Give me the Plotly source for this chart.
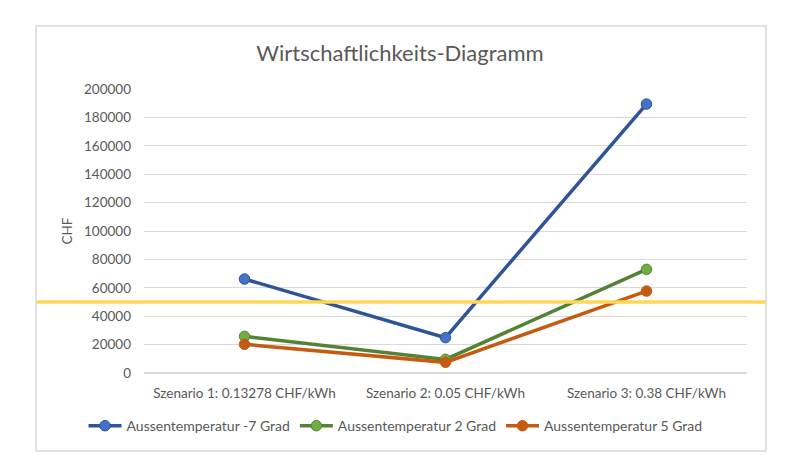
import plotly.graph_objects as go

szenarien = ['Szenario 1: 0.13278 CHF/kWh', 'Szenario 2: 0.05 CHF/kWh', 'Szenario 3: 0.38 CHF/kWh']
temp_minus7 = [66200, 24900, 189400]
temp_2 = [25800, 9600, 73000]
temp_5 = [20200, 7500, 57700]
grenze = 50000

grau = '#595959'

fig = go.Figure()
fig.add_trace(go.Scatter(x=szenarien, y=temp_minus7, name='Aussentemperatur -7 Grad',
                         mode='lines+markers',
                         line=dict(color='#2F5597', width=3.5),
                         marker=dict(color='#4472C4', size=10.5, line=dict(color='#2F5597', width=1))))
fig.add_trace(go.Scatter(x=szenarien, y=temp_2, name='Aussentemperatur 2 Grad',
                         mode='lines+markers',
                         line=dict(color='#548235', width=3.5),
                         marker=dict(color='#70AD47', size=10.5, line=dict(color='#548235', width=1))))
fig.add_trace(go.Scatter(x=szenarien, y=temp_5, name='Aussentemperatur 5 Grad',
                         mode='lines+markers',
                         line=dict(color='#C55A11', width=3.5),
                         marker=dict(color='#C55A11', size=10.5, line=dict(color='#C55A11', width=1))))

# Rahmen um das ganze Diagramm
fig.add_shape(type='rect', xref='paper', yref='paper',
              x0=-0.179, x1=1.0315, y0=-0.2746, y1=1.2218,
              line=dict(color='#D9D9D9', width=1.5), layer='below')
# gelbe Grenzlinie
fig.add_shape(type='line', xref='paper', yref='y',
              x0=-0.178, x1=1.031, y0=grenze, y1=grenze,
              line=dict(color='#FFD757', width=3.5))

fig.update_layout(
    width=800, height=472,
    margin=dict(l=136, r=61, t=81, b=107),
    paper_bgcolor='white', plot_bgcolor='white',
    font=dict(family='Lato', color=grau, size=13.5),
    title=dict(text='Wirtschaftlichkeits-Diagramm', x=0.49, xanchor='center',
               y=0.905, yanchor='middle', font=dict(size=22, color=grau)),
    xaxis=dict(range=[-0.5, 2.5], showgrid=False, showline=False, ticks='',
               ticklabelstandoff=10, tickfont=dict(size=13.5, color=grau)),
    yaxis=dict(range=[0, 200000], dtick=20000, tickformat='d', showgrid=True,
               gridcolor='#D9D9D9', gridwidth=1, zeroline=True, zerolinecolor='#D9D9D9',
               ticks='', ticklen=0, ticklabelstandoff=12,
               title=dict(text='CHF', standoff=8, font=dict(size=13.5, color=grau)),
               tickfont=dict(size=13.5, color=grau)),
    legend=dict(orientation='h', x=-0.1003, xanchor='left',
                y=-0.187, yanchor='middle', bgcolor='rgba(0,0,0,0)',
                font=dict(size=14, color=grau), itemwidth=33),
    showlegend=True,
)

fig.write_html('out.html')
